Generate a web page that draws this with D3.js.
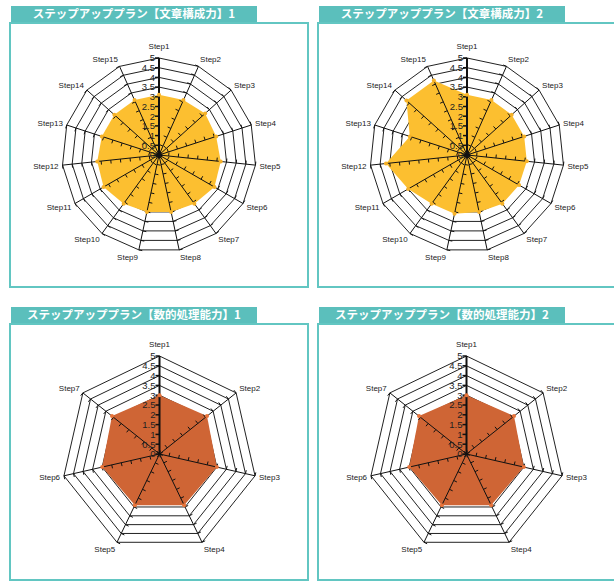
<!DOCTYPE html>
<html>
<head>
<meta charset="utf-8">
<script src="https://cdn.jsdelivr.net/npm/d3@7"></script>
<style>
  body { margin: 0; background: #fff; }
  .title-text { font-family: "Noto Sans CJK JP", sans-serif; font-weight: bold; font-size: 11.5px; fill: #fff; }
  .step-label { font-family: "Liberation Sans", Arial, sans-serif; font-size: 8px; fill: #222; }
  .tick-label { font-family: "Liberation Sans", Arial, sans-serif; font-size: 9.5px; fill: #222; }
</style>
</head>
<body>
<div id="chart"></div>
<script>
// data
var titles = [
    "ステップアッププラン【文章構成力】1",
    "ステップアッププラン【文章構成力】2",
    "ステップアッププラン【数的処理能力】1",
    "ステップアッププラン【数的処理能力】2"
];
var steps15 = ["Step1","Step2","Step3","Step4","Step5","Step6","Step7","Step8",
    "Step9","Step10","Step11","Step12","Step13","Step14","Step15"];
var steps7 = ["Step1","Step2","Step3","Step4","Step5","Step6","Step7"];

var bunshou1 = [3.1, 3.1, 3.2, 3.1, 3.2, 3.3, 3.1, 3.0, 3.0, 3.1, 3.3, 3.2, 3.1, 3.1, 3.1];
var bunshou2 = [3.1, 3.1, 3.1, 3.1, 3.1, 3.1, 3.1, 3.0, 3.1, 3.1, 3.5, 4.2, 3.1, 4.2, 4.2];
var suteki1 = [3.0, 3.1, 3.0, 2.9, 2.9, 3.0, 3.1];
var suteki2 = [3.0, 3.1, 3.0, 2.9, 2.9, 3.0, 3.1];

var tickValues = [0, 0.5, 1, 1.5, 2, 2.5, 3, 3.5, 4, 4.5, 5];

var svg = d3.select("#chart").append("svg")
    .attr("width", 614)
    .attr("height", 582);

RadarChart = function(_svg, _title, _labels, _values, _config) {
    this.svg = _svg;
    this.title = _title;
    this.labels = _labels;
    this.values = _values;
    this.config = _config;
    this.initVis();
}

RadarChart.prototype.initVis = function() {
    var vis = this;
    var c = vis.config;

    // title bar
    vis.svg.append("rect")
        .attr("x", c.x + 1).attr("y", c.y - 17)
        .attr("width", 246).attr("height", 16)
        .attr("fill", "#5bbfbc");
    vis.svg.append("text")
        .attr("class", "title-text")
        .attr("x", c.x + 124)
        .attr("y", c.y - 5)
        .attr("text-anchor", "middle")
        .text(vis.title);

    // frame
    vis.svg.append("rect")
        .attr("x", c.x).attr("y", c.y)
        .attr("width", c.w).attr("height", c.h)
        .attr("fill", "#fff")
        .attr("stroke", "#62c6c2")
        .attr("stroke-width", 2);

    vis.g = vis.svg.append("g")
        .attr("transform", "translate(" + (c.x + c.cx) + "," + (c.y + c.cy) + ")");

    var n = vis.labels.length;
    vis.r = d3.scaleLinear().domain([0, 5]).range([0, c.radius]);
    vis.angle = d3.scaleLinear().domain([0, n]).range([0, 2 * Math.PI]);

    function pt(i, v) {
        var a = vis.angle(i);
        return [Math.sin(a) * vis.r(v), -Math.cos(a) * vis.r(v)];
    }

    // grid rings
    vis.g.append("g")
        .selectAll("polygon")
        .data(tickValues.slice(1))
        .enter().append("polygon")
        .attr("points", function(v) {
            return d3.range(n).map(function(i) { return pt(i, v).join(","); }).join(" ");
        })
        .attr("fill", "none")
        .attr("stroke", "#222")
        .attr("stroke-width", 1);

    // series area
    vis.g.append("path")
        .datum(vis.values)
        .attr("d", d3.lineRadial()
            .angle(function(d, i) { return vis.angle(i); })
            .radius(function(d) { return vis.r(d); })
            .curve(d3.curveLinearClosed))
        .attr("fill", c.color);

    // spokes
    var spokes = vis.g.append("g")
        .selectAll("g")
        .data(vis.labels)
        .enter().append("g");

    spokes.append("line")
        .attr("x1", 0).attr("y1", 0)
        .attr("x2", function(d, i) { return pt(i, 5)[0]; })
        .attr("y2", function(d, i) { return pt(i, 5)[1]; })
        .attr("stroke", "#111")
        .attr("stroke-width", function(d, i) { return i == 0 ? 2 : 1; });

    // tick marks on every spoke
    spokes.selectAll(".tk")
        .data(function(d, i) { return tickValues.map(function(v) { return {i: i, v: v}; }); })
        .enter().append("line")
        .attr("class", "tk")
        .attr("x1", function(d) { return pt(d.i, d.v)[0]; })
        .attr("y1", function(d) { return pt(d.i, d.v)[1]; })
        .attr("x2", function(d) {
            var a = vis.angle(d.i);
            return pt(d.i, d.v)[0] - Math.cos(a) * (d.i == 0 ? 4 : 3.5);
        })
        .attr("y2", function(d) {
            var a = vis.angle(d.i);
            return pt(d.i, d.v)[1] - Math.sin(a) * (d.i == 0 ? 4 : 3.5);
        })
        .attr("stroke", "#111")
        .attr("stroke-width", function(d) { return d.i == 0 ? 1.5 : 1; });

    // value labels on Step1 axis
    vis.g.append("g")
        .selectAll("text")
        .data(tickValues)
        .enter().append("text")
        .attr("class", "tick-label")
        .attr("x", -4)
        .attr("y", function(d) { return -vis.r(d); })
        .attr("dy", "0.35em")
        .attr("text-anchor", "end")
        .text(function(d) { return d; });

    // markers
    vis.g.append("g")
        .selectAll("circle")
        .data(vis.values)
        .enter().append("circle")
        .attr("cx", function(d, i) { return pt(i, d)[0]; })
        .attr("cy", function(d, i) { return pt(i, d)[1]; })
        .attr("r", 2)
        .attr("fill", c.marker);

    // step labels
    vis.g.append("g")
        .selectAll("text")
        .data(vis.labels)
        .enter().append("text")
        .attr("class", "step-label")
        .attr("x", function(d, i) { return Math.sin(vis.angle(i)) * (c.radius + 4); })
        .attr("y", function(d, i) { return -Math.cos(vis.angle(i)) * (c.radius + (i == 0 ? 7 : 3)); })
        .attr("dy", function(d, i) { return (0.35 - 0.55 * Math.cos(vis.angle(i))) + "em"; })
        .attr("text-anchor", function(d, i) {
            var s = Math.sin(vis.angle(i));
            if (s > 0.05) return "start";
            if (s < -0.05) return "end";
            return "middle";
        })
        .text(function(d) { return d; });
}

new RadarChart(svg, titles[0], steps15, bunshou1,
    {x: 10, y: 23, w: 298, h: 264, cx: 149, cy: 132, radius: 97, color: "#fcbf30", marker: "#f5b128"});
new RadarChart(svg, titles[1], steps15, bunshou2,
    {x: 318, y: 23, w: 298, h: 264, cx: 149, cy: 132, radius: 97, color: "#fcbf30", marker: "#f5b128"});
new RadarChart(svg, titles[2], steps7, suteki1,
    {x: 10, y: 324, w: 298, h: 256, cx: 149.5, cy: 130, radius: 98, color: "#cf6535", marker: "#e8743a"});
new RadarChart(svg, titles[3], steps7, suteki2,
    {x: 318, y: 324, w: 298, h: 256, cx: 148.5, cy: 130, radius: 98, color: "#cf6535", marker: "#e8743a"});
</script>
</body>
</html>
